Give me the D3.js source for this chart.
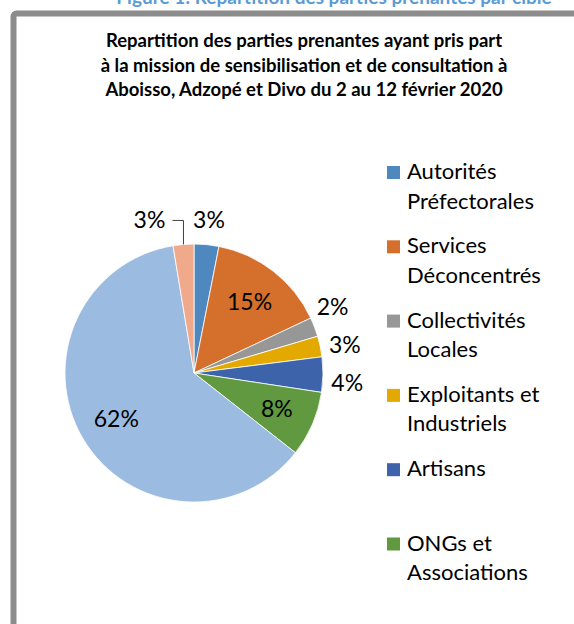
<!DOCTYPE html>
<html>
<head>
<meta charset="utf-8">
<script src="https://cdn.jsdelivr.net/npm/d3@7"></script>
<style>
  body { margin: 0; background: #fff; }
  text { font-family: Lato, "Open Sans", sans-serif; }
</style>
</head>
<body>
<div id="chart"></div>
<script>
// data (share of participants, %)
const categories = [
  "Autorités Préfectorales", "Services Déconcentrés", "Collectivités Locales",
  "Exploitants et Industriels", "Artisans", "ONGs et Associations",
  "Populations", "Autres"
];
const shares = [3.1, 14.9, 2.4, 2.6, 4.4, 8.2, 61.8, 2.6];
const colors = ["#4f88bf", "#d46f2c", "#979797", "#e4a900", "#3d63aa", "#60993f", "#9bbbe0", "#f0a98b"];
const legendShown = 6; // the rest of the legend falls below the visible frame

const captionText = "Figure 1: Répartition des parties prenantes par cible";
const titleLines = [
  "Repartition des parties prenantes ayant pris part",
  "à la mission de sensibilisation et de consultation à",
  "Aboisso, Adzopé et Divo du 2 au 12 février 2020"
];

const W = 574, H = 624;
const cx = 194, cy = 373, R = 129;

const svg = d3.select("#chart")
  .append("svg")
    .attr("width", W)
    .attr("height", H);

// caption above the frame (cut off by the page top, as in the source)
svg.append("text")
  .attr("x", 334)
  .attr("y", 4)
  .attr("text-anchor", "middle")
  .style("font-size", "19px")
  .style("font-weight", "bold")
  .style("fill", "#5b9bd5")
  .text(captionText);

// chart frame
svg.append("rect")
  .attr("x", 13.5)
  .attr("y", 13.5)
  .attr("rx", 3)
  .attr("width", 600)
  .attr("height", 650)
  .attr("fill", "#fff")
  .attr("stroke", "#8c8c8c")
  .attr("stroke-width", 6);

// title
svg.append("g")
  .selectAll("text")
  .data(titleLines)
  .join("text")
    .attr("x", 304)
    .attr("y", (d, i) => 47 + i * 24.7)
    .attr("text-anchor", "middle")
    .style("font-size", "18.5px")
    .style("font-weight", "bold")
    .style("fill", "#000")
    .text(d => d);

// pie
const pie = d3.pie().sort(null).value(d => d);
const arcs = pie(shares);
const arc = d3.arc().innerRadius(0).outerRadius(R);

const g = svg.append("g")
  .attr("transform", `translate(${cx},${cy})`);

g.selectAll("path")
  .data(arcs)
  .join("path")
    .attr("d", arc)
    .attr("fill", (d, i) => colors[i])
    .attr("stroke", "#fff")
    .attr("stroke-width", 0.8);

// labels: big slices inside, small ones outside
const fmt = v => Math.round(v) + "%";
const inR = R * 0.7, outR = R * 1.19;
const labels = arcs.map((d, i) => {
  const a = (d.startAngle + d.endAngle) / 2;
  const r = d.value > 5 ? inR : outR;
  return { i, a, inside: d.value > 5, x: r * Math.sin(a), y: -r * Math.cos(a), text: fmt(d.value) };
});

// spread outside labels on the right so they do not collide
const right = labels.filter(l => !l.inside && l.a > 0.5 && l.a < Math.PI);
const gap = 38;
for (let k = 0; k < 50; k++) {
  for (let j = 1; j < right.length; j++) {
    const d = right[j].y - right[j - 1].y;
    if (d < gap) {
      const s = (gap - d) / 2;
      right[j - 1].y -= s;
      right[j].y += s;
    }
  }
}
right.forEach(l => { l.x = Math.sqrt(Math.max(0, outR * outR - l.y * l.y)); });

// last slice: label pulled left with a leader line
const last = labels[labels.length - 1];
const lx = R * Math.sin(last.a), ly = -R * Math.cos(last.a);
last.x = lx - 34;
last.y = ly - 24;
g.append("polyline")
  .attr("points", [[lx, ly], [lx, last.y], [lx - 11, last.y]].map(p => p.join(",")).join(" "))
  .attr("fill", "none")
  .attr("stroke", "#404040")
  .attr("stroke-width", 1);

g.selectAll("text.lbl")
  .data(labels)
  .join("text")
    .attr("class", "lbl")
    .attr("x", d => d.x)
    .attr("y", d => d.y)
    .attr("dy", "0.35em")
    .attr("text-anchor", "middle")
    .style("font-size", "23px")
    .style("fill", "#000")
    .text(d => d.text);

// legend
const legend = svg.append("g").attr("transform", "translate(387,179)");
const item = legend.selectAll("g")
  .data(categories.slice(0, legendShown))
  .join("g")
    .attr("transform", (d, i) => `translate(0,${i * 74.3})`);

item.append("rect")
  .attr("x", 0)
  .attr("y", -13)
  .attr("width", 13)
  .attr("height", 13)
  .attr("fill", (d, i) => colors[i]);

item.each(function(name) {
  const t = d3.select(this).append("text")
    .attr("x", 20)
    .attr("y", 0)
    .style("font-size", "22px")
    .style("fill", "#000");
  // wrap words into lines no wider than the legend column
  const words = name.split(" ");
  let line = [];
  let tspan = t.append("tspan").attr("x", 20).attr("dy", 0);
  words.forEach(w => {
    line.push(w);
    tspan.text(line.join(" "));
    if (tspan.node().getComputedTextLength() > 150 && line.length > 1) {
      line.pop();
      tspan.text(line.join(" "));
      line = [w];
      tspan = t.append("tspan").attr("x", 20).attr("dy", 29.5).text(w);
    }
  });
});
</script>
</body>
</html>
